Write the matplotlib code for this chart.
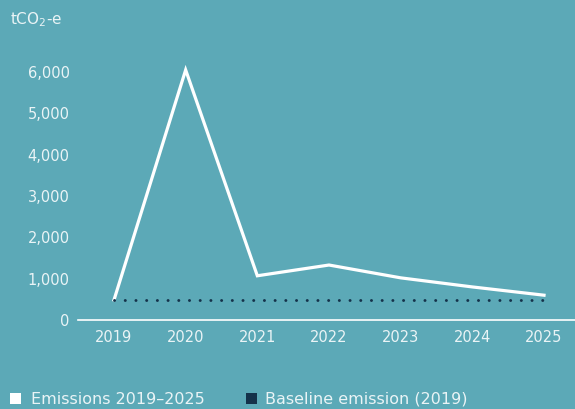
import matplotlib
matplotlib.use("Agg")
import matplotlib.pyplot as plt
from matplotlib.patches import Rectangle

years = [2019, 2020, 2021, 2022, 2023, 2024, 2025]
emissions = [484, 6050, 1070, 1330, 1020, 800, 600]
baseline = [484] * len(years)
yticks = [0, 1000, 2000, 3000, 4000, 5000, 6000]
ytick_labels = ["0", "1,000", "2,000", "3,000", "4,000", "5,000", "6,000"]

BG = "#5CA9B7"
TXT = "#EAF4F6"
NAVY = "#14324A"

plt.rcParams['font.family'] = ['DejaVu Sans']
fig = plt.figure(figsize=(5.75, 4.09), dpi=100, facecolor=BG)
ypx = 6.3 * 248 / 6
ax = fig.add_axes([78/575, 1-320/409, 1-78/575, ypx/409])
ax.set_facecolor(BG)

ax.plot(years, emissions, color="white", lw=2.3, solid_joinstyle="miter", zorder=3)
ax.plot(years, baseline, color=NAVY, lw=2.1, linestyle=(0, (0.05, 3.62)),
        dash_capstyle="round", zorder=4)

ax.set_xlim(2019 - 36/71.7, 2025 + 31/71.7)
ax.set_ylim(0, 6300)
ax.set_yticks(yticks)
ax.set_yticklabels(ytick_labels)
ax.set_xticks(years)
ax.set_xticklabels([str(y) for y in years])
ax.tick_params(axis="both", length=0, colors=TXT, labelsize=10.5)
ax.tick_params(axis="y", pad=6)
ax.tick_params(axis="x", pad=7)
for s in ["top", "right", "left"]:
    ax.spines[s].set_visible(False)
ax.spines["bottom"].set_color("white")
ax.spines["bottom"].set_linewidth(1.2)

fig.text(10/575, 1-20/409, r"tCO$_\mathregular{2}$-e", color=TXT, fontsize=11,
         va="center", ha="left")

# legend
fig.patches.append(Rectangle((10/575, 1-404/409), 11/575, 11/409, transform=fig.transFigure,
                             facecolor="white", edgecolor="none"))
fig.text(31/575, 1-399/409, "Emissions 2019–2025", color=TXT, fontsize=11.5, va="center")
fig.patches.append(Rectangle((246/575, 1-404/409), 11/575, 11/409, transform=fig.transFigure,
                             facecolor=NAVY, edgecolor="none"))
fig.text(265/575, 1-399/409, "Baseline emission (2019)", color=TXT, fontsize=11.5, va="center")

fig.savefig("out.png", dpi=100, facecolor=BG)
